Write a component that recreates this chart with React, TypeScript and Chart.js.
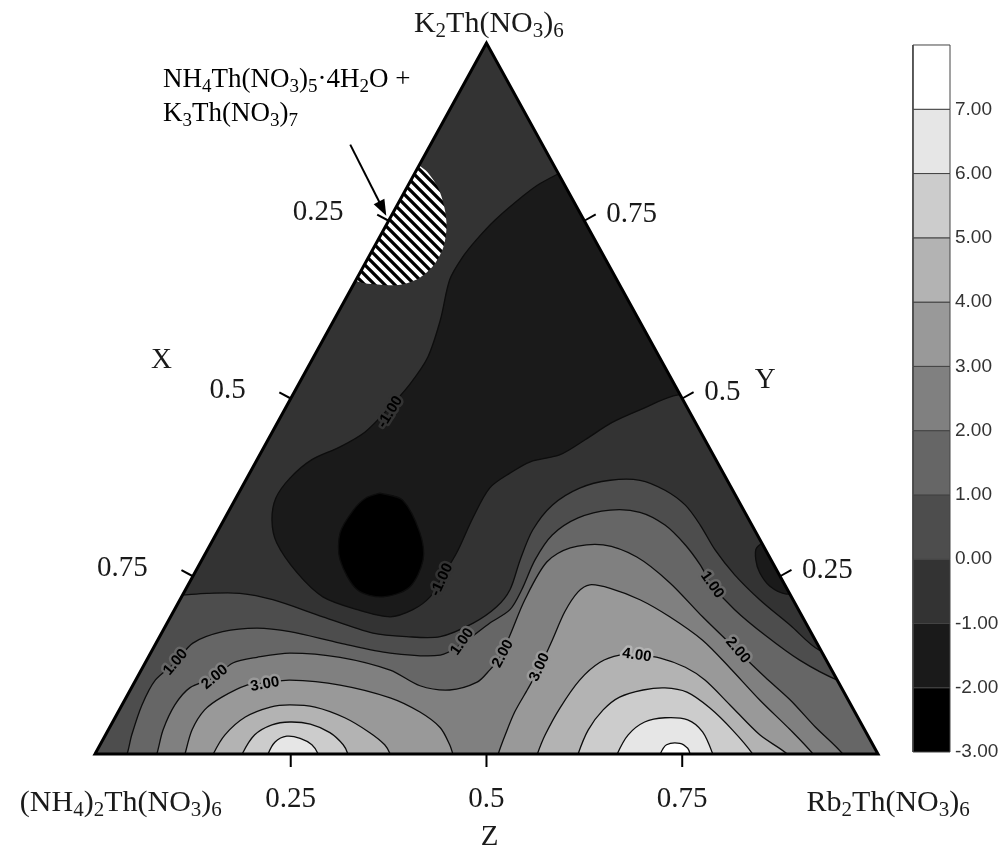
import React, { useEffect, useRef } from 'react';
import { Chart, registerables } from 'chart.js';

Chart.register(...registerables);

type P = [number, number];

// ---- colour scale (value bands of the contour map) ----
const LEVELS = [-3, -2, -1, 0, 1, 2, 3, 4, 5, 6, 7, 8];
const BAND_GREYS = ['#000000', '#1a1a1a', '#333333', '#4d4d4d', '#666666', '#808080', '#999999', '#b3b3b3', '#cccccc', '#e6e6e6', '#ffffff'];
const COLORBAR_TICKS = [-3, -2, -1, 0, 1, 2, 3, 4, 5, 6, 7];

// ---- ternary axes ----
const AXIS_TICKS = [0.25, 0.5, 0.75];
const AXIS_TICK_LABELS = ['0.25', '0.5', '0.75'];

// ---- contour regions, in triangle plot coordinates (x along base 0..1, y = height fraction 0..1) ----
// value < -1 (central trough)
const regionBelowM1: P[] = [[.613,.828],[.568,.802],[.547,.785],[.511,.751],[.487,.723],[.469,.698],[.453,.667],[.441,.610],[.425,.558],[.402,.520],[.374,.485],[.345,.453],[.313,.432],[.277,.414],[.249,.388],[.231,.360],[.226,.329],[.232,.297],[.258,.255],[.291,.221],[.335,.203],[.377,.193],[.406,.203],[.428,.221],[.441,.245],[.462,.283],[.483,.333],[.504,.374],[.530,.395],[.556,.411],[.594,.421],[.626,.442],[.660,.466],[.696,.484],[.745,.505],[.785,.498],[.773,.779],[.613,.828]];
// value < -1 (small pocket at the right side)
const regionBelowM1Edge: P[] = [[.868,.308],[.845,.290],[.844,.273],[.849,.255],[.862,.236],[.883,.225],[.900,.231],[.868,.308]];
// value < -2
const regionBelowM2: P[] = [[.364,.367],[.393,.357],[.415,.311],[.419,.273],[.402,.235],[.368,.221],[.335,.231],[.313,.273],[.313,.311],[.330,.343],[.346,.360],[.364,.367]];
// value >= 0
const regionAbove0: P[] = [[-.03,.26],[.083,.224],[.143,.226],[.185,.226],[.227,.217],[.291,.193],[.355,.170],[.398,.165],[.441,.165],[.483,.184],[.513,.207],[.530,.231],[.543,.273],[.559,.315],[.584,.350],[.619,.374],[.658,.385],[.696,.385],[.728,.371],[.754,.350],[.773,.322],[.792,.287],[.817,.252],[.849,.217],[.888,.181],[.925,.146],[.960,.140],[1.0,-.05],[-.05,-.05],[-.03,.26]];
// value >= 1
const regionAbove1: P[] = [[.032,-.05],[.036,-.01],[.041,0],[.047,.027],[.060,.069],[.077,.104],[.103,.129],[.125,.156],[.163,.172],[.207,.177],[.249,.172],[.313,.156],[.377,.142],[.441,.139],[.470,.156],[.504,.184],[.530,.203],[.545,.231],[.562,.273],[.584,.308],[.617,.332],[.658,.343],[.696,.340],[.728,.322],[.754,.294],[.773,.266],[.788,.238],[.817,.203],[.856,.167],[.900,.132],[.948,.104],[.972,.098],[1.0,-.05],[.032,-.05]];
// value >= 2
const regionAbove2: P[] = [[.070,-.05],[.075,-.01],[.079,0],[.087,.034],[.102,.069],[.121,.093],[.153,.108],[.176,.128],[.207,.136],[.249,.142],[.313,.136],[.377,.118],[.415,.096],[.453,.090],[.488,.101],[.504,.118],[.517,.136],[.530,.167],[.549,.217],[.577,.270],[.607,.290],[.649,.294],[.692,.277],[.734,.241],[.776,.193],[.820,.146],[.856,.108],[.888,.076],[.920,.038],[.955,0],[.962,-.02],[.965,-.05],[.070,-.05]];
// value >= 3
const regionAbove3Left: P[] = [[.109,-.05],[.113,-.01],[.115,0],[.124,.034],[.140,.062],[.162,.080],[.194,.097],[.217,.100],[.249,.104],[.313,.097],[.377,.079],[.415,.059],[.441,.037],[.453,.013],[.457,0],[.459,-.01],[.460,-.05],[.109,-.05]];
const regionAbove3Right: P[] = [[.511,-.05],[.513,-.01],[.515,0],[.524,.027],[.536,.059],[.552,.090],[.568,.122],[.584,.160],[.600,.200],[.617,.228],[.632,.238],[.658,.233],[.696,.217],[.734,.193],[.776,.160],[.811,.121],[.849,.076],[.888,.034],[.917,0],[.921,-.01],[.923,-.05],[.511,-.05]];
// value >= 4
const regionAbove4Left: P[] = [[.147,-.05],[.149,-.01],[.151,0],[.166,.027],[.192,.052],[.224,.066],[.249,.069],[.281,.066],[.319,.051],[.351,.030],[.370,.013],[.377,0],[.379,-.01],[.381,-.05],[.147,-.05]];
const regionAbove4Right: P[] = [[.562,-.05],[.563,-.01],[.565,0],[.575,.027],[.594,.065],[.619,.104],[.645,.129],[.670,.139],[.692,.139],[.722,.135],[.754,.122],[.779,.104],[.811,.069],[.849,.027],[.884,0],[.886,-.01],[.888,-.05],[.562,-.05]];
// value >= 5
const regionAbove5Left: P[] = [[.185,-.05],[.187,-.01],[.188,0],[.204,.027],[.226,.041],[.249,.045],[.275,.042],[.300,.030],[.317,.013],[.323,0],[.324,-.01],[.325,-.05],[.185,-.05]];
const regionAbove5Right: P[] = [[.615,-.05],[.616,-.01],[.617,0],[.630,.034],[.649,.062],[.670,.080],[.700,.090],[.728,.093],[.756,.087],[.785,.065],[.814,.034],[.840,0],[.842,-.01],[.843,-.05],[.615,-.05]];
// value >= 6
const regionAbove6Left: P[] = [[.219,-.05],[.220,-.01],[.221,0],[.230,.017],[.245,.025],[.262,.022],[.277,.013],[.285,0],[.286,-.01],[.287,-.05],[.219,-.05]];
const regionAbove6Right: P[] = [[.665,-.05],[.666,-.01],[.667,0],[.681,.027],[.702,.045],[.728,.051],[.757,.048],[.776,.031],[.789,0],[.790,-.01],[.791,-.05],[.665,-.05]];
// value >= 7
const regionAbove7Right: P[] = [[.720,-.05],[.721,-.01],[.722,0],[.730,.013],[.747,.015],[.757,.008],[.760,0],[.761,-.01],[.762,-.05],[.720,-.05]];

// two-phase (hatched) field
const hatchedRegion: P[] = [[.38,.86],[.414,.828],[.425,.818],[.438,.797],[.446,.770],[.449,.742],[.445,.713],[.433,.688],[.415,.670],[.390,.660],[.365,.660],[.333,.666],[.30,.70],[.38,.86]];

// contour labels: text, x, y, angle (deg)
const CONTOUR_LABELS: [string, number, number, number][] = [
  ['-1.00', .377, .481, -58],
  ['-1.00', .443, .245, -65],
  ['1.00', .103, .129, -50],
  ['2.00', .153, .108, -40],
  ['3.00', .217, .098, -10],
  ['1.00', .469, .158, -55],
  ['2.00', .521, .141, -62],
  ['3.00', .568, .122, -65],
  ['4.00', .692, .139, 8],
  ['1.00', .788, .238, 55],
  ['2.00', .821, .146, 50],
];

// text labels
const VERTEX_LABELS: [string, number, number][] = [
  ['K_2Th(NO_3)_6', 0.503, 1.027],
  ['(NH_4)_2Th(NO_3)_6', 0.033, -0.069],
  ['Rb_2Th(NO_3)_6', 1.013, -0.069],
];
const AXIS_NAMES: [string, number, number][] = [['X', 0.085, 0.554], ['Y', 0.856, 0.526], ['Z', 0.504, -0.117]];
const NOTE_LINES: [string, number, number][] = [['NH_4Th(NO_3)_5·4H_2O +', 0.087, 0.948], ['K_3Th(NO_3)_7', 0.087, 0.900]];
const NOTE_ARROW: P[] = [[0.326, 0.857], [0.372, 0.757]];

// layout constants
const X_MAX = 1.092;
const CB_X0 = 1.0447;
const CB_X1 = 1.092;
const SERIF = "'Liberation Serif', 'Times New Roman', serif";
const SANS = "'Liberation Sans', Arial, sans-serif";

function drawFormula(ctx: CanvasRenderingContext2D, text: string, x: number, y: number, size: number, align: 'left' | 'center' | 'right') {
  const runs: { t: string; sub: boolean }[] = [];
  for (let i = 0; i < text.length; i++) {
    if (text[i] === '_' && i + 1 < text.length) {
      runs.push({ t: text[i + 1], sub: true });
      i++;
    } else {
      const last = runs[runs.length - 1];
      if (last && !last.sub) last.t += text[i];
      else runs.push({ t: text[i], sub: false });
    }
  }
  const subSize = Math.round(size * 0.7);
  let total = 0;
  const widths = runs.map((r) => {
    ctx.font = `${r.sub ? subSize : size}px ${SERIF}`;
    const w = ctx.measureText(r.t).width;
    total += w;
    return w;
  });
  let cx = align === 'left' ? x : align === 'center' ? x - total / 2 : x - total;
  ctx.textAlign = 'left';
  ctx.textBaseline = 'middle';
  runs.forEach((r, i) => {
    ctx.font = `${r.sub ? subSize : size}px ${SERIF}`;
    ctx.fillText(r.t, cx, y + (r.sub ? size * 0.26 : 0));
    cx += widths[i];
  });
}

const textPlugin = {
  id: 'ternaryText',
  afterDraw(chart: any) {
    const { ctx } = chart;
    const sx = chart.scales.x;
    const sy = chart.scales.y;
    const sc = chart.scales.cb;
    const X = (u: number) => sx.getPixelForValue(u);
    const Y = (v: number) => sy.getPixelForValue(v);
    ctx.save();

    // contour labels
    for (const [txt, u, v, ang] of CONTOUR_LABELS) {
      const lvl = parseFloat(txt);
      ctx.save();
      ctx.translate(X(u), Y(v));
      ctx.rotate((ang * Math.PI) / 180);
      ctx.font = `bold 15px ${SANS}`;
      ctx.textAlign = 'center';
      ctx.textBaseline = 'middle';
      ctx.lineJoin = 'round';
      ctx.strokeStyle = BAND_GREYS[lvl + 3];
      ctx.lineWidth = 5;
      ctx.strokeText(txt, 0, 0);
      ctx.fillStyle = '#000';
      ctx.fillText(txt, 0, 0);
      ctx.restore();
    }

    // ternary tick labels
    ctx.fillStyle = '#1a1a1a';
    ctx.font = `29px ${SERIF}`;
    ctx.textBaseline = 'middle';
    AXIS_TICKS.forEach((t, i) => {
      const lab = AXIS_TICK_LABELS[i];
      // bottom (Z)
      ctx.textAlign = 'center';
      ctx.fillText(lab, X(t), Y(-0.064));
      // left (X): edge point at height 1 - t
      const vl = 1 - t;
      ctx.textAlign = 'right';
      ctx.fillText(lab, X(vl / 2) - 45, Y(vl) - 8);
      // right (Y): edge point at height t
      ctx.textAlign = 'left';
      ctx.fillText(lab, X(1 - t / 2) + 22, Y(t) - 6);
    });
    ctx.textAlign = 'center';
    for (const [name, u, v] of AXIS_NAMES) ctx.fillText(name, X(u), Y(v));

    // vertex labels
    ctx.fillStyle = '#1a1a1a';
    for (const [name, u, v] of VERTEX_LABELS) drawFormula(ctx, name, X(u), Y(v), 30, 'center');

    // note + arrow
    ctx.fillStyle = '#000';
    for (const [line, u, v] of NOTE_LINES) drawFormula(ctx, line, X(u), Y(v), 27, 'left');
    const [a0, a1] = NOTE_ARROW;
    const x0 = X(a0[0]), y0 = Y(a0[1]), x1 = X(a1[0]), y1 = Y(a1[1]);
    const ang = Math.atan2(y1 - y0, x1 - x0);
    ctx.strokeStyle = '#000';
    ctx.lineWidth = 2;
    ctx.beginPath();
    ctx.moveTo(x0, y0);
    ctx.lineTo(x1 - 12 * Math.cos(ang), y1 - 12 * Math.sin(ang));
    ctx.stroke();
    ctx.beginPath();
    ctx.moveTo(x1, y1);
    ctx.lineTo(x1 - 16 * Math.cos(ang) + 6 * Math.sin(ang), y1 - 16 * Math.sin(ang) - 6 * Math.cos(ang));
    ctx.lineTo(x1 - 16 * Math.cos(ang) - 6 * Math.sin(ang), y1 - 16 * Math.sin(ang) + 6 * Math.cos(ang));
    ctx.closePath();
    ctx.fill();

    // colour bar labels
    ctx.fillStyle = '#333';
    ctx.font = `19px ${SANS}`;
    ctx.textAlign = 'left';
    ctx.textBaseline = 'middle';
    for (const t of COLORBAR_TICKS) ctx.fillText(t.toFixed(2), X(CB_X1) + 5, sc.getPixelForValue(t));

    ctx.restore();
  },
};

export default function App() {
  const ref = useRef<HTMLCanvasElement>(null);

  useEffect(() => {
    const canvas = ref.current!;
    const mainCtx = canvas.getContext('2d')!;
    const T = 10;
    const tile = document.createElement('canvas');
    tile.width = T;
    tile.height = T;
    const g = tile.getContext('2d')!;
    g.fillStyle = '#fff';
    g.fillRect(0, 0, T, T);
    g.strokeStyle = '#000';
    g.lineWidth = 3.3;
    g.beginPath();
    g.moveTo(-2, -2); g.lineTo(T + 2, T + 2);
    g.moveTo(-2, T - 2); g.lineTo(2, T + 2);
    g.moveTo(T - 2, -2); g.lineTo(T + 2, 2);
    g.stroke();
    const hatch = mainCtx.createPattern(tile, 'repeat');

    const xy = (pts: P[]) => pts.map(([x, y]) => ({ x, y }));
    const datasets: any[] = [];
    const base = { pointRadius: 0, pointHoverRadius: 0, tension: 0.3, spanGaps: true };
    const region = (pts: P[], band: number) =>
      datasets.push({ ...base, data: xy(pts), fill: 'shape', backgroundColor: BAND_GREYS[band], borderColor: '#0d0d0d', borderWidth: 1.3 });

    // base colour of the triangle (band -1..0)
    datasets.push({ ...base, tension: 0, data: xy([[0, 0], [0.5, 1], [1, 0], [0, 0]]), fill: 'shape', backgroundColor: BAND_GREYS[2], borderWidth: 0 });
    region(regionBelowM1, 1);
    region(regionBelowM1Edge, 1);
    region(regionBelowM2, 0);
    region(regionAbove0, 3);
    region(regionAbove1, 4);
    region(regionAbove2, 5);
    region(regionAbove3Left, 6);
    region(regionAbove3Right, 6);
    region(regionAbove4Left, 7);
    region(regionAbove4Right, 7);
    region(regionAbove5Left, 8);
    region(regionAbove5Right, 8);
    region(regionAbove6Left, 9);
    region(regionAbove6Right, 9);
    region(regionAbove7Right, 10);
    datasets.push({ ...base, data: xy(hatchedRegion), fill: 'shape', backgroundColor: hatch, borderWidth: 0 });

    // white masks outside the triangle edges
    datasets.push({ ...base, tension: 0, data: xy([[0, 0], [0.5, 1], [-0.05, 1.05], [-0.05, -0.05], [0, 0]]), fill: 'shape', backgroundColor: '#fff', borderWidth: 0 });
    datasets.push({ ...base, tension: 0, data: xy([[1, 0], [0.5, 1], [0.5, 1.05], [1.04, 1.05], [1.04, -0.05], [1, -0.05], [1, 0]]), fill: 'shape', backgroundColor: '#fff', borderWidth: 0 });

    // triangle outline
    datasets.push({ ...base, tension: 0, data: xy([[0, 0], [0.5, 1], [1, 0], [0, 0], [0.5, 1]]), fill: false, borderColor: '#000', borderWidth: 3, borderJoinStyle: 'miter', clip: false });

    // axis ticks
    const tk = 13;
    const du = tk / 783, dv = tk / 711;
    AXIS_TICKS.forEach((t) => {
      const tickStyle = { ...base, tension: 0, fill: false, borderColor: '#000', borderWidth: 2, clip: false };
      datasets.push({ ...tickStyle, data: xy([[t, 0], [t, -dv]]) });
      const vl = 1 - t;
      datasets.push({ ...tickStyle, data: xy([[vl / 2, vl], [vl / 2 - 0.878 * du, vl + 0.48 * dv]]) });
      datasets.push({ ...tickStyle, data: xy([[1 - t / 2, t], [1 - t / 2 + 0.875 * du, t + 0.485 * dv]]) });
    });

    // colour bar
    for (let i = 0; i < LEVELS.length - 1; i++) {
      const a = LEVELS[i], b = LEVELS[i + 1];
      datasets.push({
        ...base, tension: 0, yAxisID: 'cb', clip: false,
        data: xy([[CB_X0, a], [CB_X1, a], [CB_X1, b], [CB_X0, b], [CB_X0, a]]),
        fill: 'shape', backgroundColor: BAND_GREYS[i], borderColor: '#444', borderWidth: 1,
      });
    }

    datasets.forEach((d, i) => (d.order = -i));

    const chart = new Chart(canvas, {
      type: 'line',
      data: { datasets },
      options: {
        animation: false,
        responsive: false,
        devicePixelRatio: 1,
        events: [],
        layout: { padding: { left: 95, right: 54, top: 43, bottom: 95 } },
        plugins: { legend: { display: false }, tooltip: { enabled: false } },
        scales: {
          x: { type: 'linear', display: false, min: 0, max: X_MAX },
          y: { type: 'linear', display: false, min: 0, max: 1 },
          cb: { type: 'linear', display: false, min: -3.031, max: 8.031, position: 'right' },
        },
      } as any,
      plugins: [textPlugin],
    });
    return () => chart.destroy();
  }, []);

  return (
    <canvas
      ref={ref}
      width={1004}
      height={849}
      style={{ position: 'absolute', left: 0, top: 0, width: 1004, height: 849, background: '#fff' }}
    />
  );
}
